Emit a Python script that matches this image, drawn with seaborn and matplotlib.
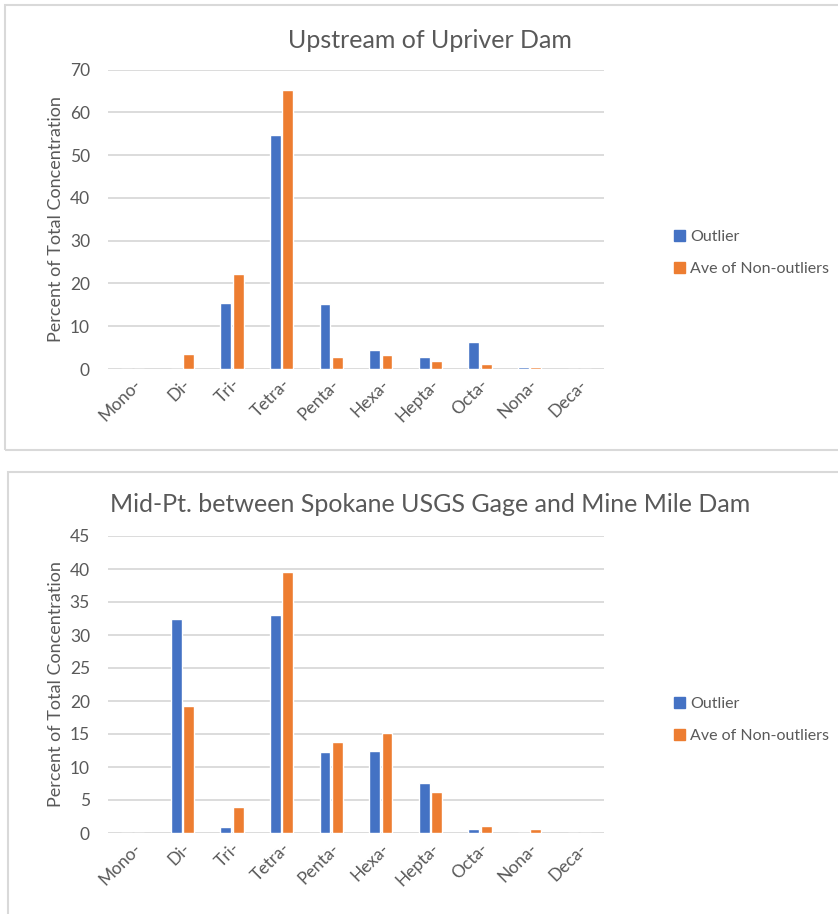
import matplotlib
matplotlib.use("Agg")
import matplotlib.pyplot as plt
import matplotlib.patches as mpatches
import pandas as pd
import seaborn as sns

# Homologue groups on the x axis
homologues = ["Mono-", "Di-", "Tri-", "Tetra-", "Penta-", "Hexa-", "Hepta-", "Octa-", "Nona-", "Deca-"]
series_names = ["Outlier", "Ave of Non-outliers"]

# Upstream of Upriver Dam (% of total concentration)
upriver_outlier = [0.0, 0.0, 15.5, 54.8, 15.3, 4.5, 2.7, 6.3, 0.4, 0.0]
upriver_nonoutlier = [0.0, 3.4, 22.3, 65.2, 2.7, 3.2, 1.8, 1.2, 0.4, 0.0]

# Mid-point between Spokane USGS gage and Nine Mile Dam (% of total concentration)
midpt_outlier = [0.0, 32.4, 0.9, 33.1, 12.2, 12.5, 7.6, 0.6, 0.0, 0.0]
midpt_nonoutlier = [0.0, 19.3, 4.0, 39.5, 13.8, 15.1, 6.2, 1.1, 0.6, 0.0]

titles = ["Upstream of Upriver Dam",
          "Mid-Pt. between Spokane USGS Gage and Mine Mile Dam"]
y_label = "Percent of Total Concentration"
y_ticks_top = [0, 10, 20, 30, 40, 50, 60, 70]
y_ticks_bottom = [0, 5, 10, 15, 20, 25, 30, 35, 40, 45]

BLUE = "#4472C4"
ORANGE = "#ED7D31"
GRID = "#D9D9D9"
TEXT = "#595959"

sns.set_theme(style="white")
plt.rcParams["font.family"] = ["Lato", "DejaVu Sans"]

W, H = 838, 914
fig = plt.figure(figsize=(W / 100, H / 100), dpi=100)


def frac_box(x0, y0, x1, y1):
    """Pixel box (top-left origin) -> figure-fraction [left, bottom, width, height]."""
    return [x0 / W, 1 - y1 / H, (x1 - x0) / W, (y1 - y0) / H]


def long_frame(a, b):
    rows = []
    for cat, v in zip(homologues, a):
        rows.append({"group": cat, "series": series_names[0], "value": v})
    for cat, v in zip(homologues, b):
        rows.append({"group": cat, "series": series_names[1], "value": v})
    return pd.DataFrame(rows)


def draw_panel(box, frame_box, df, ticks, title, title_y, legend_y):
    # chart-area border
    fx0, fy0, fx1, fy1 = frame_box
    fig.patches.append(mpatches.Rectangle(
        (fx0 / W, 1 - fy1 / H), (fx1 - fx0) / W, (fy1 - fy0) / H,
        transform=fig.transFigure, fill=False, edgecolor=GRID, linewidth=1.5))

    ax = fig.add_axes(frac_box(*box))
    sns.barplot(data=df, x="group", y="value", hue="series", order=homologues,
                hue_order=series_names, palette=[BLUE, ORANGE], width=0.5,
                gap=0.12, ax=ax, legend=False, saturation=1, errorbar=None)
    ax.set_xlim(-0.5, len(homologues) - 0.5)
    ax.set_ylim(0, ticks[-1])
    ax.set_yticks(ticks)
    ax.yaxis.grid(True, color=GRID, linewidth=1.3)
    ax.set_axisbelow(True)
    for s in ax.spines.values():
        s.set_visible(False)
    ax.tick_params(axis="both", length=0, colors=TEXT, labelsize=12.5)
    ax.tick_params(axis="y", pad=13)
    ax.tick_params(axis="x", pad=5)
    plt.setp(ax.get_xticklabels(), rotation=45, ha="right", rotation_mode="anchor")
    ax.set_xlabel("")
    ax.set_ylabel(y_label, color=TEXT, fontsize=13)
    ax.yaxis.set_label_coords(-44 / (box[2] - box[0]), 0.5)

    fig.text(430 / W, 1 - title_y / H, title, ha="center", va="center",
             fontsize=18, color=TEXT)

    handles = [mpatches.Patch(color=BLUE), mpatches.Patch(color=ORANGE)]
    leg = ax.legend(handles, series_names, loc="center left",
                    bbox_to_anchor=(668 / W, 1 - legend_y / H),
                    bbox_transform=fig.transFigure, frameon=False,
                    handlelength=0.65, handleheight=0.65, handletextpad=0.35,
                    labelspacing=1.15, fontsize=11.5, borderaxespad=0)
    for t in leg.get_texts():
        t.set_color(TEXT)
    return ax


ax_top = draw_panel((108, 69.5, 604, 369), (5, 5, 850, 450),
                    long_frame(upriver_outlier, upriver_nonoutlier),
                    y_ticks_top, titles[0], 40, 253)
ax_bot = draw_panel((108, 536, 604, 833), (8, 472, 850, 930),
                    long_frame(midpt_outlier, midpt_nonoutlier),
                    y_ticks_bottom, titles[1], 505, 720)

fig.savefig("out.png", dpi=100, facecolor="white")
